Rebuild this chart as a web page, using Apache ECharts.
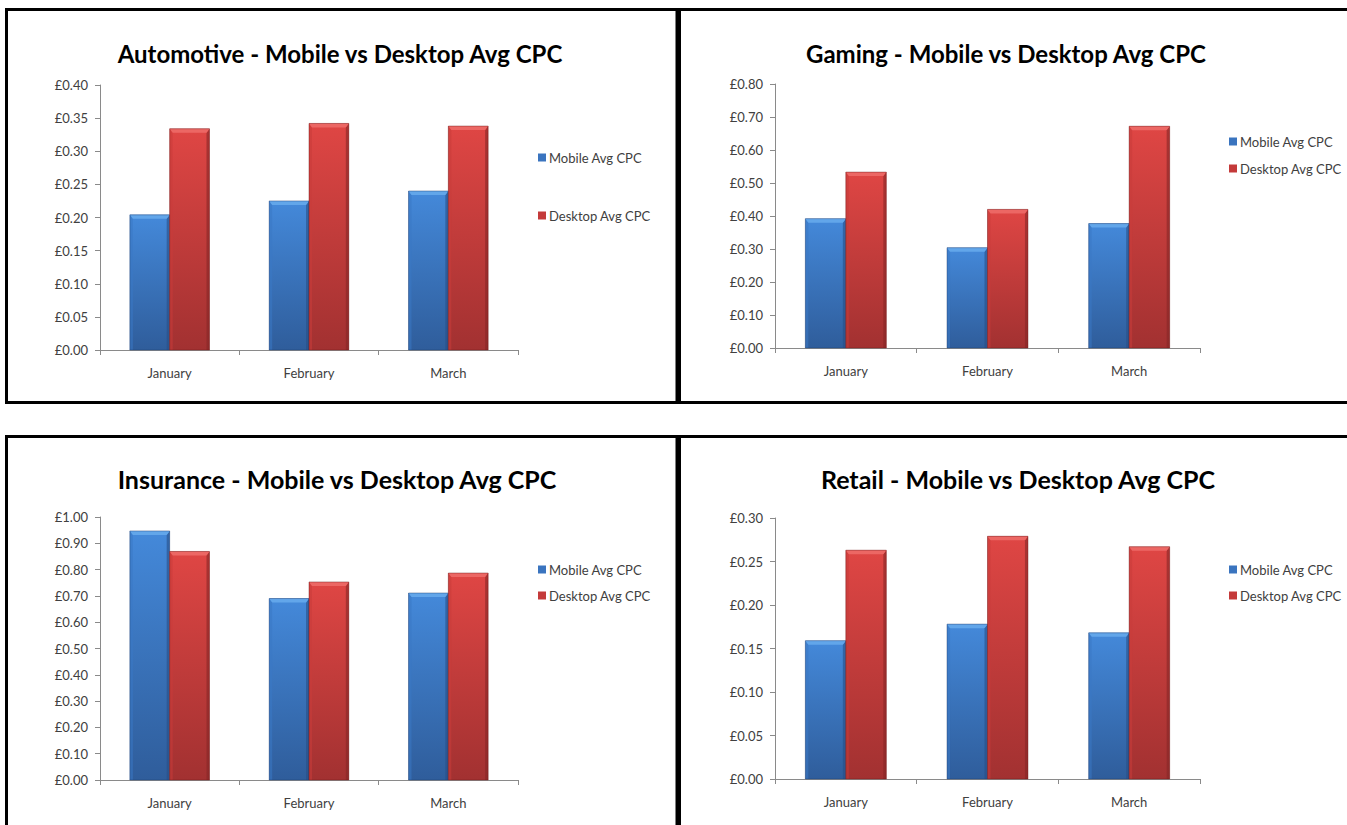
<!DOCTYPE html>
<html>
<head>
<meta charset="utf-8">
<title>Mobile vs Desktop Avg CPC by sector</title>
<script src="https://cdn.jsdelivr.net/npm/echarts@6/dist/echarts.min.js"></script>
<style>
  html, body { margin: 0; padding: 0; background: #ffffff; }
  #chart { width: 1347px; height: 825px; }
</style>
</head>
<body>
<div id="chart"></div>
<script>
// Months shown on every category axis
const months = ['January', 'February', 'March'];

// Sector names, in panel order (top-left, top-right, bottom-left, bottom-right)
const sectors = ['Automotive', 'Gaming', 'Insurance', 'Retail'];
const seriesNames = ['Mobile Avg CPC', 'Desktop Avg CPC'];

// Average cost per click (GBP)
const mobileAutomotive = [0.204, 0.225, 0.240];
const desktopAutomotive = [0.334, 0.342, 0.338];
const mobileGaming = [0.392, 0.304, 0.377];
const desktopGaming = [0.533, 0.420, 0.672];
const mobileInsurance = [0.947, 0.690, 0.711];
const desktopInsurance = [0.869, 0.753, 0.787];
const mobileRetail = [0.159, 0.178, 0.168];
const desktopRetail = [0.263, 0.279, 0.267];

// Value-axis range and tick step per panel
const axisMax = [0.40, 0.80, 1.00, 0.30];
const axisStep = [0.05, 0.10, 0.10, 0.05];

const mobileData = [mobileAutomotive, mobileGaming, mobileInsurance, mobileRetail];
const desktopData = [desktopAutomotive, desktopGaming, desktopInsurance, desktopRetail];

// Panel layout (pixels)
const panels = [
  { grid: { left: 100, top: 85, width: 418, height: 265 }, titleX: 340, titleY: 53, titleSize: 24, legendX: 533, legendY: [146, 204], frame: { x: 6.5, y: 9.5, w: 670.5, h: 393 } },
  { grid: { left: 775, top: 84, width: 425, height: 264 }, titleX: 1006, titleY: 53, titleSize: 24, legendX: 1224, legendY: [130, 157], frame: { x: 679.5, y: 9.5, w: 680, h: 393 } },
  { grid: { left: 100, top: 517, width: 418, height: 263 }, titleX: 337, titleY: 479, titleSize: 25, legendX: 533, legendY: [558, 584], frame: { x: 6.5, y: 436.5, w: 670.5, h: 400 } },
  { grid: { left: 775, top: 518, width: 425, height: 261 }, titleX: 1018, titleY: 479, titleSize: 25, legendX: 1224, legendY: [558, 584], frame: { x: 679.5, y: 436.5, w: 680, h: 400 } }
];

const palettes = [
  { top: '#4489da', bottom: '#2f5d9b', bevel: '#62a6ea', left: '#3a78c4', right: '#284f86', edge: 'rgba(30,60,110,0.55)', legend: '#3a74bf' },
  { top: '#df4644', bottom: '#a23131', bevel: '#ec6764', left: '#c83c3a', right: '#862626', edge: 'rgba(110,25,25,0.55)', legend: '#c43a3a' }
];

const textColor = '#404040';
const axisColor = '#8a8a8a';
const fontFamily = 'Lato, "Open Sans", sans-serif';

// Bevelled column drawn from the category/value scales of its grid
function bevelBar(pal, side) {
  return function (params, api) {
    const cat = api.value(0);
    const val = api.value(1);
    const base = api.coord([cat, 0]);
    const top = api.coord([cat, val]);
    const band = api.size([1, 0])[0];
    const w = band / 3.5;
    const x = side < 0 ? base[0] - w : base[0];
    const y = top[1];
    const h = base[1] - top[1];
    const b = Math.min(4, h / 2);
    const s = 3;
    return {
      type: 'group',
      children: [
        {
          type: 'rect',
          shape: { x: x, y: y, width: w, height: h },
          style: {
            fill: new echarts.graphic.LinearGradient(0, 0, 0, 1, [
              { offset: 0, color: pal.top },
              { offset: 1, color: pal.bottom }
            ])
          }
        },
        {
          type: 'polygon',
          shape: { points: [[x, y], [x + s, y + b], [x + s, y + h], [x, y + h]] },
          style: { fill: pal.left, opacity: 0.55 }
        },
        {
          type: 'polygon',
          shape: { points: [[x + w, y], [x + w - s, y + b], [x + w - s, y + h], [x + w, y + h]] },
          style: { fill: pal.right, opacity: 0.6 }
        },
        {
          type: 'polygon',
          shape: { points: [[x, y], [x + w, y], [x + w - s, y + b], [x + s, y + b]] },
          style: { fill: pal.bevel }
        },
        {
          type: 'rect',
          shape: { x: x, y: y, width: w, height: h },
          style: { fill: 'none', stroke: pal.edge, lineWidth: 0.8 }
        }
      ]
    };
  };
}

const grids = [];
const xAxes = [];
const yAxes = [];
const series = [];
const legends = [];
const graphics = [];

panels.forEach(function (p, i) {
  grids.push(Object.assign({ containLabel: false }, p.grid));

  xAxes.push({
    type: 'category',
    gridIndex: i,
    data: months,
    boundaryGap: true,
    axisLine: { show: true, lineStyle: { color: axisColor, width: 1 } },
    axisTick: { show: true, length: 5, lineStyle: { color: axisColor } },
    axisLabel: { color: textColor, fontSize: 13, fontFamily: fontFamily, margin: 16 },
    splitLine: { show: false }
  });

  yAxes.push({
    type: 'value',
    gridIndex: i,
    min: 0,
    max: axisMax[i],
    interval: axisStep[i],
    axisLine: { show: true, lineStyle: { color: axisColor, width: 1 } },
    axisTick: { show: true, length: 5, lineStyle: { color: axisColor } },
    axisLabel: {
      color: textColor, fontSize: 13, fontFamily: fontFamily, margin: 12,
      formatter: function (v) { return '\u00a3' + v.toFixed(2); }
    },
    splitLine: { show: false }
  });

  [mobileData[i], desktopData[i]].forEach(function (vals, k) {
    series.push({
      type: 'custom',
      name: seriesNames[k],
      xAxisIndex: i,
      yAxisIndex: i,
      itemStyle: { color: palettes[k].legend },
      encode: { x: 0, y: 1 },
      data: vals.map(function (v, j) { return [j, v]; }),
      renderItem: bevelBar(palettes[k], k === 0 ? -1 : 1),
      clip: false
    });
  });

  seriesNames.forEach(function (name, k) {
    legends.push({
      data: [name],
      left: p.legendX,
      top: p.legendY[k],
      orient: 'vertical',
      icon: 'rect',
      itemWidth: 8,
      itemHeight: 8,
      selectedMode: false,
      textStyle: { color: textColor, fontSize: 13, fontFamily: fontFamily, padding: [0, 0, 0, -2] }
    });
  });

  graphics.push({
    type: 'rect',
    shape: { x: p.frame.x, y: p.frame.y, width: p.frame.w, height: p.frame.h },
    style: { fill: 'none', stroke: '#000000', lineWidth: 3 },
    silent: true
  });

  graphics.push({
    type: 'text',
    x: p.titleX,
    y: p.titleY,
    style: {
      text: sectors[i] + ' - Mobile vs Desktop Avg CPC',
      fill: '#000000',
      font: 'bold ' + p.titleSize + 'px ' + fontFamily,
      textAlign: 'center',
      textVerticalAlign: 'middle'
    },
    silent: true
  });
});

const chart = echarts.init(document.getElementById('chart'), null, { renderer: 'svg' });
chart.setOption({
  backgroundColor: '#ffffff',
  animation: false,
  grid: grids,
  xAxis: xAxes,
  yAxis: yAxes,
  legend: legends,
  series: series,
  graphic: graphics
});
</script>
</body>
</html>
